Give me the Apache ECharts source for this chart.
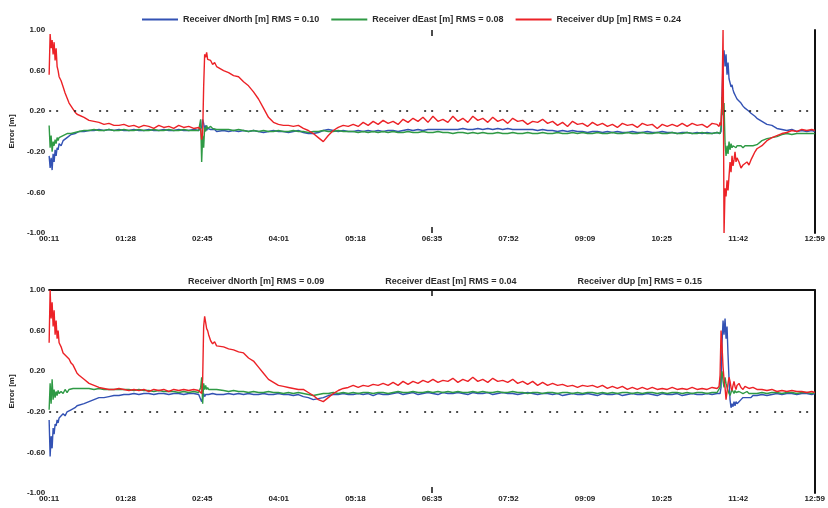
<!DOCTYPE html>
<html>
<head>
<meta charset="utf-8">
<script src="https://cdn.jsdelivr.net/npm/echarts@6/dist/echarts.min.js"></script>
<style>
  html, body { margin: 0; padding: 0; background: #fff; }
  #chart { width: 828px; height: 508px; }
</style>
</head>
<body>
<div id="chart"></div>
<script>
// Epoch times in seconds since the first solution
const epochSec = [
  0,1,2,3,4,5,6,7,8,9,10,
  12,14,16,18,20,22,24,26,28,30,
  35,40,45,50,55,60,65,70,75,80,85,90,95,100,105,110,115,120,125,130,135,140,145,150,
  151,152,153,154,155,156,157,158,159,160,
  162,164,166,168,170,
  175,180,185,190,195,200,205,210,215,220,
  225,230,235,240,245,250,255,260,265,270,
  275,280,285,290,295,300,305,310,315,320,
  325,330,335,340,345,350,355,360,365,370,
  375,380,385,390,395,400,405,410,415,420,
  425,430,435,440,445,450,455,460,465,470,
  475,480,485,490,495,500,505,510,515,520,
  525,530,535,540,545,550,555,560,565,570,
  575,580,585,590,595,600,605,610,615,620,
  625,630,635,640,645,650,655,660,665,670,
  671,672,673,674,675,676,677,678,679,680,681,682,683,684,685,686,687,688,689,690,
  692,694,696,698,700,702,704,706,708,710,
  715,720,725,730,735,740,745,750,755,760,765,768
];

const timeTickLabels = ['00:11','01:28','02:45','04:01','05:18','06:35','07:52','09:09','10:25','11:42','12:59'];

// ---- Upper panel ----
const topNorth = [
  -0.24,-0.36,-0.26,-0.38,-0.22,-0.30,-0.18,-0.24,-0.16,-0.18,-0.12,
  -0.14,-0.09,-0.10,-0.06,-0.06,-0.03,-0.04,-0.02,-0.02,0.00,
  0.00,0.01,0.01,0.02,0.01,0.02,0.01,0.02,0.01,0.01,0.02,0.01,0.01,0.02,0.01,0.01,0.02,0.01,0.01,0.02,0.01,0.01,0.02,0.01,
  0.01,0.02,0.04,0.12,0.08,0.02,0.06,0.01,0.03,0.02,
  0.02,0.01,0.02,0.00,0.01,
  0.01,0.00,0.01,0.00,0.01,0.00,0.01,0.00,-0.01,0.00,
  0.01,0.00,0.00,-0.01,0.00,0.01,-0.01,-0.02,-0.02,-0.01,
  0.01,0.02,0.01,0.00,0.01,0.00,
  0.00,0.01,0.00,0.01,0.00,0.01,0.00,0.01,0.01,0.00,
  0.01,0.02,0.01,0.02,0.01,0.02,0.02,0.02,0.02,0.02,
  0.02,0.02,0.03,0.02,0.02,0.03,0.02,0.03,0.02,0.03,
  0.02,0.03,0.02,0.02,0.02,0.02,0.02,0.01,0.02,0.01,
  0.01,0.00,0.01,0.00,0.01,0.00,0.00,-0.01,0.00,0.00,
  -0.01,0.00,-0.01,0.00,-0.01,-0.01,0.00,-0.01,-0.01,0.00,
  -0.01,-0.01,0.00,-0.01,-0.01,-0.02,-0.01,-0.01,-0.02,-0.01,
  -0.02,-0.01,-0.02,-0.01,
  -0.02,-0.01,-0.02,0.00,0.36,0.70,0.80,0.64,0.76,0.56,0.68,0.52,0.48,0.44,0.46,0.41,0.38,0.39,0.34,0.32,
  0.30,0.28,0.25,0.23,0.22,0.20,0.18,0.18,0.15,0.13,
  0.10,0.07,0.06,0.03,0.02,0.01,0.02,0.00,0.01,0.00,0.01,0.00
];

const topEast = [
  0.06,-0.16,-0.04,-0.20,-0.10,-0.14,-0.08,-0.12,-0.06,-0.09,-0.06,
  -0.06,-0.04,-0.05,-0.02,-0.03,-0.02,-0.02,-0.01,0.00,0.00,
  0.01,0.01,0.02,0.01,0.01,0.02,0.01,0.01,0.02,0.01,0.01,0.02,0.01,0.01,0.02,0.01,0.01,0.02,0.01,0.01,0.02,0.01,0.01,0.01,
  0.01,0.12,-0.30,-0.04,-0.16,0.04,0.00,0.06,0.03,0.04,
  0.05,0.03,0.04,0.02,0.03,
  0.02,0.02,0.01,0.02,0.01,0.00,0.01,0.00,0.01,0.00,
  0.00,0.01,0.00,0.00,0.01,0.00,0.00,-0.01,0.00,0.00,
  0.01,0.00,0.00,0.01,0.00,0.00,
  0.00,-0.01,0.00,-0.01,0.00,-0.01,0.00,-0.01,0.00,-0.01,
  -0.01,0.00,-0.01,-0.01,0.00,-0.01,-0.01,0.00,-0.01,-0.01,
  -0.02,-0.01,-0.01,-0.02,-0.01,-0.02,-0.01,-0.02,-0.02,-0.01,
  -0.02,-0.02,-0.01,-0.02,-0.02,-0.01,-0.02,-0.02,-0.01,-0.02,
  -0.02,-0.01,-0.02,-0.02,-0.01,-0.02,-0.01,-0.02,-0.02,-0.01,
  -0.02,-0.02,-0.01,-0.02,-0.02,-0.01,-0.02,-0.02,-0.01,-0.02,
  -0.02,-0.01,-0.02,-0.02,-0.01,-0.02,-0.02,-0.01,-0.02,-0.02,
  -0.01,-0.02,-0.02,-0.01,
  -0.02,-0.01,-0.02,0.04,0.34,0.16,0.28,-0.12,-0.24,-0.14,-0.22,-0.10,-0.18,-0.12,-0.16,-0.14,-0.15,-0.14,-0.16,-0.14,
  -0.15,-0.14,-0.16,-0.14,-0.15,-0.14,-0.15,-0.14,-0.14,-0.13,
  -0.09,-0.07,-0.06,-0.05,-0.03,-0.02,-0.03,-0.02,-0.02,-0.02,-0.02,-0.02
];

const topUp = [
  0.56,0.96,0.82,0.90,0.76,0.88,0.70,0.82,0.64,0.60,0.54,
  0.50,0.44,0.38,0.33,0.28,0.25,0.22,0.19,0.17,0.16,
  0.14,0.11,0.10,0.09,0.07,0.08,0.06,0.06,0.07,0.05,0.06,0.04,0.06,0.05,0.03,0.06,0.04,0.05,0.03,0.06,0.04,0.05,0.03,0.04,
  0.05,0.02,-0.08,-0.02,0.44,0.76,0.73,0.78,0.71,0.70,
  0.70,0.66,0.68,0.64,0.63,
  0.60,0.58,0.55,0.54,0.49,0.45,0.39,0.32,0.23,0.14,
  0.09,0.07,0.06,0.06,0.05,0.06,0.03,0.01,-0.02,-0.06,
  -0.10,-0.04,0.01,0.04,0.06,0.05,
  0.07,0.05,0.09,0.06,0.10,0.07,0.11,0.08,0.10,0.07,
  0.12,0.09,0.13,0.10,0.14,0.09,0.15,0.10,0.12,0.09,
  0.15,0.10,0.13,0.09,0.15,0.11,0.13,0.09,0.14,0.10,
  0.12,0.08,0.13,0.10,0.11,0.07,0.10,0.09,0.12,0.08,
  0.10,0.06,0.09,0.05,0.10,0.07,0.08,0.05,0.09,0.06,
  0.08,0.05,0.07,0.04,0.08,0.06,0.07,0.04,0.08,0.06,
  0.07,0.03,0.07,0.05,0.07,0.05,0.08,0.05,0.08,0.06,
  0.07,0.04,0.08,0.07,
  0.07,0.05,0.09,0.06,0.36,1.00,-1.00,-0.56,-0.64,-0.48,-0.58,-0.44,-0.30,-0.40,-0.24,-0.34,-0.28,-0.20,-0.30,-0.26,
  -0.30,-0.36,-0.33,-0.34,-0.30,-0.33,-0.28,-0.24,-0.20,-0.17,
  -0.14,-0.09,-0.06,-0.04,-0.02,-0.01,0.01,0.00,0.02,0.01,0.02,0.01
];

// ---- Lower panel ----
const botNorth = [
  -0.28,-0.64,-0.44,-0.56,-0.36,-0.42,-0.32,-0.34,-0.28,-0.31,-0.26,
  -0.26,-0.22,-0.24,-0.20,-0.20,-0.18,-0.17,-0.16,-0.14,-0.14,
  -0.12,-0.10,-0.08,-0.06,-0.06,-0.05,-0.04,-0.04,-0.03,-0.03,-0.02,-0.03,-0.02,-0.02,-0.03,-0.02,-0.02,-0.03,-0.02,-0.02,-0.03,-0.02,-0.02,-0.03,
  -0.02,-0.04,-0.10,-0.06,-0.02,-0.05,-0.03,-0.04,-0.03,-0.03,
  -0.03,-0.02,-0.03,-0.03,-0.02,
  -0.03,-0.02,-0.03,-0.02,-0.03,-0.02,-0.03,-0.03,-0.02,-0.03,
  -0.03,-0.02,-0.03,-0.03,-0.04,-0.03,-0.05,-0.06,-0.08,-0.07,
  -0.06,-0.04,-0.03,-0.03,-0.02,-0.03,
  -0.03,-0.02,-0.03,-0.02,-0.04,-0.02,-0.03,-0.03,-0.02,-0.01,
  -0.03,-0.02,-0.01,-0.03,-0.02,-0.01,-0.02,-0.03,-0.01,-0.02,
  -0.02,-0.01,-0.02,-0.03,-0.01,-0.02,-0.02,-0.01,-0.03,-0.02,
  -0.01,-0.02,-0.02,-0.03,-0.02,-0.01,-0.02,-0.03,-0.02,-0.02,
  -0.03,-0.02,-0.04,-0.03,-0.02,-0.03,-0.03,-0.02,-0.03,-0.04,
  -0.02,-0.03,-0.03,-0.02,-0.04,-0.03,-0.02,-0.03,-0.03,-0.02,
  -0.03,-0.04,-0.02,-0.03,-0.03,-0.02,-0.04,-0.03,-0.02,-0.03,
  -0.03,-0.02,-0.03,-0.02,
  -0.02,-0.03,-0.02,0.04,0.48,0.70,0.56,0.72,0.52,0.64,0.36,0.12,-0.08,-0.16,-0.12,-0.15,-0.10,-0.14,-0.10,-0.12,
  -0.10,-0.08,-0.06,-0.07,-0.06,-0.05,-0.06,-0.04,-0.05,-0.04,
  -0.03,-0.04,-0.03,-0.02,-0.03,-0.02,-0.02,-0.03,-0.02,-0.02,-0.03,-0.02
];

const botEast = [
  -0.18,0.08,-0.12,0.12,-0.08,0.02,-0.06,0.00,-0.04,0.01,-0.02,
  0.00,-0.02,0.02,-0.01,0.02,0.02,0.03,0.02,0.03,0.03,
  0.03,0.03,0.02,0.03,0.02,0.02,0.02,0.02,0.02,0.02,0.01,0.02,0.01,0.01,0.00,0.01,0.00,0.00,0.00,-0.01,0.00,-0.01,0.00,-0.01,
  -0.01,0.04,0.14,-0.12,0.08,0.02,0.06,0.02,0.04,0.02,
  0.02,0.02,0.01,0.02,0.01,
  0.01,0.00,0.01,0.00,0.00,-0.01,0.00,-0.01,-0.01,0.00,
  -0.01,-0.01,-0.02,-0.01,-0.02,-0.01,-0.02,-0.03,-0.04,-0.03,
  -0.02,-0.02,-0.01,-0.02,-0.01,-0.02,
  -0.01,-0.02,-0.01,-0.01,-0.02,-0.01,-0.01,-0.02,-0.01,0.00,
  -0.01,-0.01,0.00,-0.01,-0.01,0.00,-0.01,0.00,-0.01,0.00,
  -0.01,0.00,-0.01,-0.01,0.00,-0.01,0.00,-0.01,-0.01,0.00,
  -0.01,-0.01,0.00,-0.01,-0.01,-0.02,-0.01,-0.01,-0.02,-0.01,
  -0.01,-0.02,-0.01,-0.01,-0.02,-0.01,-0.02,-0.01,-0.01,-0.02,
  -0.01,-0.02,-0.01,-0.02,-0.01,-0.01,-0.02,-0.01,-0.02,-0.01,
  -0.01,-0.02,-0.01,-0.02,-0.01,-0.01,-0.02,-0.01,-0.02,-0.01,
  -0.01,-0.02,-0.01,-0.01,
  -0.02,-0.01,0.04,0.16,0.20,0.10,0.04,0.14,0.08,0.04,0.01,-0.02,-0.04,-0.01,0.02,0.00,-0.02,0.01,-0.01,-0.02,
  0.00,-0.01,-0.02,-0.01,0.00,-0.02,-0.01,-0.02,-0.01,-0.02,
  -0.01,-0.02,-0.01,-0.01,-0.02,-0.01,-0.01,-0.02,-0.01,-0.01,-0.02,-0.01
];

const botUp = [
  0.48,1.00,0.72,0.88,0.64,0.80,0.56,0.70,0.52,0.60,0.48,
  0.44,0.38,0.39,0.34,0.32,0.28,0.26,0.22,0.18,0.16,
  0.12,0.08,0.06,0.04,0.03,0.02,0.02,0.03,0.02,0.01,0.02,0.01,0.02,0.00,0.02,0.01,0.02,0.00,0.02,0.01,0.02,0.01,0.02,0.01,
  0.02,0.00,-0.02,0.12,0.64,0.74,0.68,0.62,0.60,0.56,
  0.50,0.47,0.49,0.45,0.44,
  0.44,0.42,0.41,0.39,0.38,0.33,0.30,0.24,0.18,0.12,
  0.09,0.06,0.05,0.04,0.03,0.02,0.02,-0.01,-0.04,-0.08,
  -0.10,-0.06,-0.02,0.01,0.03,0.04,
  0.06,0.04,0.06,0.05,0.07,0.06,0.08,0.06,0.09,0.06,
  0.10,0.07,0.10,0.08,0.11,0.09,0.12,0.09,0.11,0.10,
  0.13,0.09,0.12,0.10,0.14,0.10,0.12,0.09,0.13,0.10,
  0.11,0.09,0.12,0.08,0.10,0.07,0.10,0.06,0.09,0.06,
  0.08,0.06,0.07,0.05,0.06,0.04,0.06,0.05,0.06,0.04,
  0.06,0.03,0.05,0.03,0.05,0.02,0.04,0.02,0.04,0.02,
  0.04,0.02,0.03,0.02,0.04,0.02,0.03,0.02,0.04,0.02,
  0.03,0.02,0.04,0.03,
  0.03,0.05,0.16,0.60,0.44,0.24,0.12,0.04,-0.08,0.00,0.08,0.14,0.10,0.04,0.01,0.06,0.10,0.05,0.02,0.06,
  0.08,0.04,0.02,0.05,0.06,0.03,0.02,0.04,0.03,0.02,
  0.02,0.01,0.02,0.00,0.01,0.00,0.01,0.00,0.00,-0.01,0.00,-0.01
];

const seriesNames = {
  top: ['Receiver dNorth [m] RMS = 0.10', 'Receiver dEast [m] RMS = 0.08', 'Receiver dUp [m] RMS = 0.24'],
  bottom: ['Receiver dNorth [m] RMS = 0.09', 'Receiver dEast [m] RMS = 0.04', 'Receiver dUp [m] RMS = 0.15']
};

const COLORS = { north: '#3352b4', east: '#2f9a45', up: '#ec2227' };
const FONT = "'Liberation Sans', Arial, sans-serif";
const SPAN = 768;
const STEP = SPAN / 10;

function pairs(values) {
  return epochSec.map((t, i) => [t, values[i]]);
}

function lineSeries(name, values, color, xIdx, yIdx, guideValue) {
  const s = {
    name, type: 'line', data: pairs(values),
    xAxisIndex: xIdx, yAxisIndex: yIdx,
    showSymbol: false, symbol: 'none',
    lineStyle: { color, width: 1.4 },
    itemStyle: { color },
    animation: false
  };
  if (guideValue !== undefined) {
    s.markLine = {
      silent: true, symbol: 'none', animation: false,
      label: { show: false },
      lineStyle: { color: '#111', width: 1.6, type: [2, 5, 2, 16] },
      data: [{ yAxis: guideValue }]
    };
  }
  return s;
}

function labelAxis(gridIndex) {
  return {
    type: 'value', gridIndex, position: 'bottom', min: 0, max: SPAN, interval: STEP,
    axisLine: { show: false, onZero: false }, axisTick: { show: false }, splitLine: { show: false },
    axisLabel: {
      fontFamily: FONT, fontSize: 8, fontWeight: 'bold', color: '#222', margin: 2,
      formatter: v => timeTickLabels[Math.round(v / STEP)] ?? ''
    }
  };
}

// Frame axis carrying a single mid-span tick mark
function tickAxis(gridIndex, position, showLine) {
  return {
    type: 'value', gridIndex, position, min: 0, max: SPAN, interval: SPAN / 2,
    axisLine: { show: !!showLine, onZero: false, lineStyle: { color: '#111', width: 2 } },
    axisTick: {
      show: true, inside: true, length: 6, customValues: [SPAN / 2],
      lineStyle: { color: '#111', width: 1.5 }
    },
    axisLabel: { show: false }, splitLine: { show: false }
  };
}

function valueAxis(gridIndex) {
  return {
    type: 'value', gridIndex, position: 'left', min: -1, max: 1, interval: 0.2,
    name: 'Error [m]', nameLocation: 'middle', nameGap: 28, nameRotate: 90,
    nameTextStyle: { fontFamily: FONT, fontSize: 8, fontWeight: 'bold', color: '#222' },
    axisLine: { show: false, onZero: false }, axisTick: { show: false }, splitLine: { show: false },
    axisLabel: {
      fontFamily: FONT, fontSize: 8, fontWeight: 'bold', color: '#222', margin: 4,
      formatter: v => (Math.abs(Math.round(v * 5)) % 2 === 1 ? v.toFixed(2) : '')
    }
  };
}

function borderAxis(gridIndex) {
  return {
    type: 'value', gridIndex, position: 'right', min: -1, max: 1,
    axisLine: { show: true, onZero: false, lineStyle: { color: '#111', width: 2 } },
    axisTick: { show: false }, axisLabel: { show: false }, splitLine: { show: false }
  };
}

const chart = echarts.init(document.getElementById('chart'), null, { renderer: 'canvas' });

chart.setOption({
  backgroundColor: '#ffffff',
  animation: false,
  textStyle: { fontFamily: FONT },
  legend: [
    {
      data: seriesNames.top, left: 137, top: 10,
      icon: 'rect', itemWidth: 36, itemHeight: 2, itemGap: 12,
      textStyle: { fontFamily: FONT, fontSize: 9, fontWeight: 'bold', color: '#2b2b2b' }
    },
    {
      data: seriesNames.bottom, left: 178, top: 270,
      icon: 'none', itemWidth: 0, itemGap: 56,
      textStyle: { fontFamily: FONT, fontSize: 9, fontWeight: 'bold', color: '#2b2b2b' }
    }
  ],
  grid: [
    { left: 45, right: 6, top: 30, height: 203 },
    { left: 45, right: 6, top: 290, height: 203 }
  ],
  xAxis: [
    labelAxis(0),
    tickAxis(0, 'top', false),
    labelAxis(1),
    tickAxis(1, 'top', true),
    tickAxis(0, 'bottom', false),
    tickAxis(1, 'bottom', false)
  ],
  yAxis: [
    valueAxis(0), borderAxis(0),
    valueAxis(1), borderAxis(1)
  ],
  series: [
    lineSeries(seriesNames.top[0], topNorth, COLORS.north, 0, 0, 0.2),
    lineSeries(seriesNames.top[1], topEast, COLORS.east, 0, 0),
    lineSeries(seriesNames.top[2], topUp, COLORS.up, 0, 0),
    lineSeries(seriesNames.bottom[0], botNorth, COLORS.north, 2, 2, -0.2),
    lineSeries(seriesNames.bottom[1], botEast, COLORS.east, 2, 2),
    lineSeries(seriesNames.bottom[2], botUp, COLORS.up, 2, 2)
  ]
});
</script>
</body>
</html>
